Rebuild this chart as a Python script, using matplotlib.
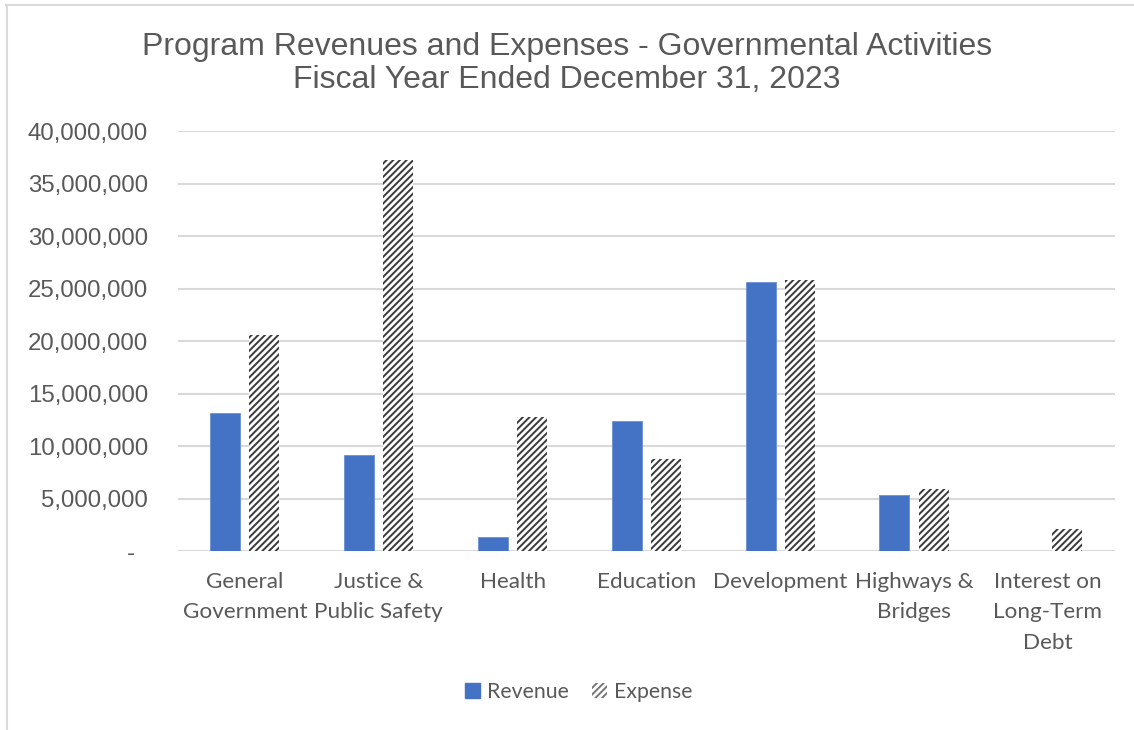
import matplotlib
matplotlib.use("Agg")
import matplotlib.pyplot as plt
import matplotlib.patches as mpatches
from matplotlib.lines import Line2D
from matplotlib.ticker import FuncFormatter, MultipleLocator
import numpy as np

categories = [
    "General\nGovernment",
    "Justice &\nPublic Safety",
    "Health",
    "Education",
    "Development",
    "Highways &\nBridges",
    "Interest on\nLong-Term\nDebt",
]
revenue = [13_150_000, 9_150_000, 1_350_000, 12_380_000, 25_650_000, 5_330_000, 0]
expense = [20_570_000, 37_240_000, 12_760_000, 8_760_000, 25_800_000, 5_880_000, 2_070_000]

title = "Program Revenues and Expenses - Governmental Activities\nFiscal Year Ended December 31, 2023"

BLUE = "#4472C4"
TEXT = "#595959"
GRID = "#D9D9D9"
HATCH = "#3A3A3A"

plt.rcParams["hatch.linewidth"] = 1.4
plt.rcParams["hatch.color"] = HATCH

fig = plt.figure(figsize=(11.34, 7.30), dpi=100)
ax = fig.add_axes([0.157, 0.2452, 0.826, 0.5753])

x = np.arange(len(categories))
w = 0.224
off = 0.146
ax.bar(x - off, revenue, width=w, color=BLUE, edgecolor="#6A8FD3", linewidth=0.6, zorder=3)
ax.bar(x + off, expense, width=w, color="white", edgecolor=HATCH, linewidth=0,
       hatch="/////", zorder=3)

ax.set_xlim(-0.5, len(categories) - 0.5)
ax.set_ylim(0, 40_000_000)
ax.yaxis.set_major_locator(MultipleLocator(5_000_000))
ax.yaxis.set_major_formatter(FuncFormatter(lambda v, p: "-  " if v == 0 else f"{v:,.0f}"))
ax.grid(axis="y", color=GRID, linewidth=1.5, zorder=0)
for s in ax.spines.values():
    s.set_visible(False)
ax.tick_params(axis="y", length=0, pad=21.6, labelsize=17.3, labelcolor=TEXT)
ax.tick_params(axis="x", length=0, pad=15)
for lbl in ax.get_yticklabels():
    lbl.set_fontfamily("Liberation Sans")

ax.set_xticks(x)
ax.set_xticklabels(categories, fontfamily="Lato", fontsize=16.2, color=TEXT,
                   linespacing=1.65)

fig.text(0.5, 0.913, title, ha="center", va="center", fontsize=23,
         color=TEXT, fontfamily="Liberation Sans", linespacing=1.13)

handles = [
    mpatches.Patch(facecolor=BLUE, edgecolor=BLUE, label="Revenue"),
    mpatches.Patch(facecolor="white", edgecolor="#777777", linewidth=0, hatch="/////", label="Expense"),
]
leg = fig.legend(handles=handles, loc="center", bbox_to_anchor=(0.5105, 0.052),
                 ncol=2, frameon=False, prop={"family": "Lato", "size": 15.3},
                 handlelength=0.7, handleheight=0.7, handletextpad=0.35,
                 columnspacing=1.08)
for t in leg.get_texts():
    t.set_color(TEXT)

# outer frame lines (top and left)
fig.add_artist(Line2D([6 / 1134, 1.0], [1 - 5 / 730, 1 - 5 / 730], color=GRID, linewidth=1.5,
                      transform=fig.transFigure))
fig.add_artist(Line2D([6.5 / 1134, 6.5 / 1134], [0, 1 - 5 / 730], color=GRID, linewidth=1.5,
                      transform=fig.transFigure))

fig.savefig("out.png", dpi=100, facecolor="white")
